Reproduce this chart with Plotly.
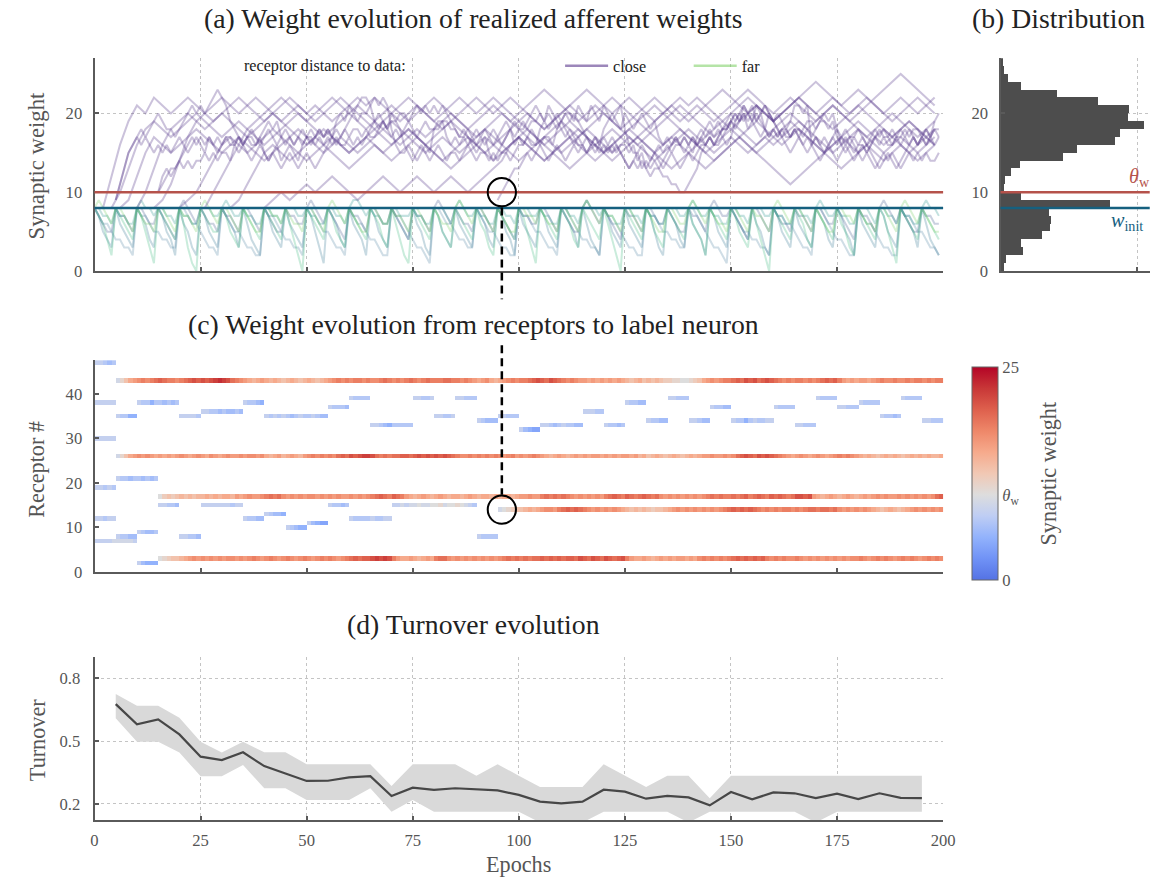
import numpy as np
import plotly.graph_objects as go

# ---------------- data ----------------
N_EPOCHS = 200
N_RECEPTORS = 48
THETA_W = 10
W_INIT = 8

# (c) receptors that stay above threshold: row, first epoch, per-epoch weights
strong_rows = [43, 26, 17, 3, 14]
strong_starts = [5, 5, 15, 15, 95]
w_r43 = [9, 11, 13, 15, 16, 17, 18, 17, 18, 19, 20, 19, 18, 18, 17, 18, 19, 20, 21, 20, 21, 20,
         21, 22, 23, 22, 21, 19, 18, 17, 16, 15, 14, 15, 16, 15, 14, 15, 14, 13, 14, 15, 14, 13,
         14, 15, 14, 13, 14, 15, 16, 17, 18, 17, 18, 17, 18, 18, 17, 18, 17, 17, 18, 19, 18, 17,
         18, 17, 18, 19, 18, 17, 18, 19, 18, 18, 18, 19, 19, 18, 18, 17, 18, 17, 16, 15, 16, 17,
         15, 14, 15, 16, 17, 18, 17, 18, 18, 19, 20, 21, 20, 19, 21, 20, 19, 18, 17, 18, 17, 16,
         16, 15, 16, 15, 16, 15, 16, 15, 16, 15, 14, 13, 14, 15, 13, 14, 13, 14, 13, 12, 12, 11,
         11, 10, 10, 11, 12, 13, 15, 16, 17, 16, 17, 18, 18, 19, 20, 19, 21, 20, 21, 19, 20, 21,
         20, 19, 18, 17, 18, 17, 18, 18, 17, 18, 17, 18, 19, 20, 19, 20, 18, 16, 15, 16, 15, 16,
         16, 15, 16, 17, 18, 17, 17, 18, 17, 17, 18, 17, 18, 18, 17, 18, 17, 18, 18]
w_r26 = [9, 11, 13, 15, 16, 17, 16, 17, 16, 15, 16, 15, 16, 15, 16, 17, 16, 15, 16, 17, 16, 15,
         17, 16, 15, 16, 17, 16, 16, 17, 16, 17, 17, 16, 17, 15, 14, 15, 16, 14, 15, 16, 15, 14,
         16, 17, 18, 17, 18, 17, 18, 17, 19, 20, 19, 21, 20, 21, 22, 22, 21, 19, 18, 19, 18, 19,
         19, 20, 20, 19, 20, 21, 20, 21, 20, 21, 20, 21, 20, 19, 18, 17, 17, 18, 17, 18, 17, 18,
         17, 18, 17, 16, 17, 18, 16, 17, 16, 17, 18, 17, 16, 15, 14, 15, 16, 15, 14, 15, 16, 15,
         16, 15, 16, 16, 15, 16, 15, 16, 15, 16, 16, 15, 16, 14, 15, 13, 14, 15, 14, 13, 14, 15,
         14, 13, 14, 15, 14, 15, 16, 16, 17, 16, 16, 17, 16, 17, 19, 20, 21, 20, 19, 21, 20, 21,
         20, 19, 18, 17, 16, 15, 16, 17, 16, 15, 16, 17, 16, 15, 16, 17, 18, 17, 18, 17, 16, 15,
         14, 15, 14, 13, 14, 15, 14, 15, 14, 13, 14, 15, 14, 15, 14, 15, 14, 14, 15]
w_r17 = [10, 12, 13, 12, 13, 14, 13, 14, 13, 14, 14, 15, 14, 15, 14, 15, 15, 14, 16, 15, 16, 17,
         16, 16, 17, 18, 19, 18, 19, 17, 16, 17, 16, 17, 16, 17, 17, 16, 17, 16, 17, 16, 17, 16,
         16, 17, 16, 17, 16, 17, 18, 19, 20, 19, 18, 20, 19, 18, 16, 15, 14, 15, 16, 15, 14, 15,
         16, 15, 14, 15, 15, 14, 15, 16, 15, 14, 15, 15, 14, 15, 14, 15, 15, 14, 15, 16, 16, 17,
         16, 16, 18, 19, 18, 19, 18, 19, 18, 17, 16, 17, 16, 17, 16, 17, 16, 18, 19, 20, 19, 18,
         20, 19, 18, 19, 20, 19, 18, 19, 17, 16, 17, 16, 17, 16, 17, 16, 17, 16, 17, 18, 19, 18,
         19, 18, 18, 19, 18, 19, 20, 18, 19, 20, 19, 18, 20, 19, 20, 19, 18, 19, 21, 21, 20, 21,
         16, 15, 14, 15, 16, 15, 14, 15, 16, 15, 14, 15, 16, 15, 16, 17, 16, 17, 16, 16, 17, 16,
         17, 16, 17, 16, 17, 16, 17, 19, 20]
w_r3 = [10, 11, 12, 13, 13, 14, 15, 16, 17, 16, 17, 16, 17, 16, 17, 16, 17, 17, 16, 17, 16, 17,
        18, 17, 16, 17, 18, 17, 16, 17, 18, 17, 16, 17, 18, 17, 16, 17, 18, 17, 18, 17, 16, 17,
        18, 19, 20, 19, 20, 20, 21, 22, 21, 22, 21, 18, 16, 15, 15, 16, 15, 14, 15, 16, 15, 18,
        19, 19, 17, 16, 17, 16, 17, 16, 17, 16, 17, 16, 17, 16, 17, 18, 19, 18, 19, 18, 19, 18,
        19, 19, 20, 19, 20, 19, 20, 19, 20, 20, 19, 21, 20, 19, 21, 20, 19, 21, 20, 19, 20, 21,
        18, 16, 15, 15, 16, 15, 14, 15, 16, 15, 16, 15, 16, 16, 15, 16, 15, 17, 18, 17, 18, 17,
        18, 17, 18, 19, 20, 19, 20, 19, 20, 19, 20, 18, 17, 18, 17, 18, 17, 17, 18, 17, 16, 17,
        16, 17, 16, 17, 16, 17, 16, 17, 16, 17, 17, 18, 17, 16, 17, 18, 17, 18, 17, 16, 17, 18,
        17, 18, 17, 16, 17, 18, 17, 18, 17]
w_r14 = [9, 10, 11, 12, 13, 13, 14, 15, 14, 15, 16, 17, 17, 16, 18, 19, 20, 19, 20, 19, 18, 17,
         16, 17, 16, 17, 16, 17, 16, 15, 14, 13, 14, 13, 14, 13, 12, 13, 13, 14, 15, 16, 17, 16,
         17, 16, 17, 16, 17, 16, 17, 16, 17, 18, 19, 20, 19, 20, 19, 20, 19, 18, 17, 18, 17, 18,
         17, 18, 18, 17, 18, 17, 18, 19, 19, 18, 19, 19, 18, 19, 17, 16, 17, 16, 17, 16, 17, 16,
         15, 14, 13, 14, 15, 14, 13, 14, 15, 16, 17, 16, 17, 16, 17, 16, 17]
strong_weights = [w_r43, w_r26, w_r17, w_r3, w_r14]

# (c) short-lived receptors below threshold: row, first epoch, per-epoch weights
weak_rows = [47, 38, 30, 19, 12, 7, 35, 21, 8, 38, 9, 2, 15, 35, 8, 36, 15, 38, 12, 35, 13, 10,
             11, 37, 15, 39, 12, 33, 15, 39, 35, 39, 34, 8, 35, 32, 33, 36, 33, 38, 34, 39, 34,
             37, 34, 37, 33, 39, 37, 38, 35, 39, 34]
weak_starts = [0, 0, 0, 0, 0, 0, 5, 5, 5, 10, 10, 10, 15, 20, 20, 25, 25, 35, 35, 40, 40, 45,
               50, 55, 55, 60, 60, 65, 70, 75, 80, 85, 90, 90, 95, 100, 105, 115, 120, 125, 130,
               135, 140, 145, 150, 160, 165, 170, 175, 180, 185, 190, 195]
weak_values = [
    [8, 8, 7, 6, 7], [8, 8, 8, 8, 8], [8, 8, 8, 8, 8], [8, 8, 7, 8, 7], [8, 8, 7, 8, 8],
    [8, 8, 8, 8, 9, 9, 9, 9, 9, 8], [8, 7, 7, 5, 5], [8, 7, 7, 6, 7, 7, 6, 7, 6, 7],
    [8, 7, 7, 6, 6], [8, 7, 7, 5, 7, 7, 6, 7, 6, 7], [8, 7, 6, 6, 7], [8, 6, 5, 5, 5],
    [8, 8, 7, 7, 6], [8, 8, 8, 8, 7], [8, 8, 7, 7, 6], [8, 8, 7, 7, 6, 7, 6, 6, 7, 6],
    [8, 8, 8, 8, 8, 8, 8, 7, 8, 8], [8, 7, 7, 6, 5], [8, 7, 7, 6, 6],
    [8, 7, 8, 7, 8, 7, 6, 7, 8, 7, 7, 8, 7, 6, 6], [8, 7, 6, 6, 5], [8, 7, 6, 5, 5],
    [8, 6, 5, 4, 4], [8, 7, 7, 7, 6], [8, 7, 7, 6, 7], [8, 7, 7, 7, 7],
    [8, 7, 7, 7, 7, 8, 7, 7, 8, 8], [8, 8, 7, 6, 5, 7, 7, 7, 7, 7],
    [8, 8, 9, 8, 9, 9, 10, 9, 9, 10, 10, 11, 9, 10, 10, 11, 10, 9, 8, 7],
    [8, 8, 7, 7, 8], [8, 8, 7, 7, 8], [8, 8, 7, 7, 7], [8, 7, 6, 6, 6], [8, 7, 7, 7, 7],
    [8, 8, 7, 7, 7], [8, 6, 5, 4, 4], [8, 8, 7, 6, 7, 8, 7, 7, 6, 6], [8, 8, 8, 7, 7],
    [8, 7, 7, 6, 7], [8, 7, 7, 6, 6], [8, 7, 7, 6, 6], [8, 8, 7, 7, 7], [8, 8, 7, 6, 6],
    [8, 7, 7, 6, 6], [8, 7, 7, 5, 7, 8, 7, 7, 8, 8], [8, 7, 7, 7, 7], [8, 8, 7, 7, 7],
    [8, 7, 7, 7, 7], [8, 8, 7, 7, 7], [8, 7, 7, 7, 7], [8, 7, 7, 6, 7], [8, 7, 7, 7, 7],
    [8, 8, 7, 7, 7]]

# (a) further close afferents, sampled every second epoch
extra_starts = [2, 4, 6, 10, 14, 20, 26, 32, 40]
close_e1 = [8, 12, 16, 19, 21, 20, 22, 21, 20, 21, 22, 21, 20, 19, 20, 21, 22, 21, 20, 19,
            20, 21, 22, 21, 20, 21, 20, 19, 20, 21, 22, 21, 22, 21, 20, 19, 20, 21, 20, 19,
            18, 19, 20, 21, 22, 21, 20, 21, 22, 21, 20, 19, 18, 19, 20, 21, 20, 19, 20, 21,
            22, 21, 20, 19, 20, 21, 20, 21, 20, 19, 20, 21, 22, 23, 22, 21, 20, 21, 20, 19,
            20, 21, 22, 21, 20, 21, 22, 21, 22, 23, 22, 21, 20, 19, 20, 21, 22, 21, 20]
close_e2 = [8, 10, 13, 16, 18, 19, 18, 17, 18, 19, 20, 19, 18, 17, 18, 19, 18, 17, 16, 17,
            18, 19, 20, 19, 18, 17, 18, 19, 20, 21, 20, 19, 18, 17, 16, 17, 18, 17, 18, 19,
            20, 19, 18, 17, 18, 19, 20, 19, 18, 17, 16, 17, 18, 19, 18, 17, 18, 19, 20, 19,
            18, 17, 16, 17, 18, 19, 20, 21, 20, 19, 18, 17, 18, 19, 18, 17, 16, 17, 18, 19,
            20, 19, 18, 19, 20, 21, 20, 19, 18, 17, 18, 19, 20, 19, 18, 17, 18, 19]
close_e3 = [8, 9, 12, 15, 17, 16, 15, 16, 17, 18, 17, 16, 15, 16, 17, 16, 15, 14, 15, 16,
            17, 18, 17, 16, 15, 16, 17, 16, 15, 16, 17, 18, 19, 18, 17, 16, 15, 16, 17, 16,
            15, 16, 17, 18, 17, 16, 15, 14, 15, 16, 17, 16, 15, 16, 17, 18, 17, 16, 15, 16,
            17, 16, 15, 14, 15, 16, 17, 18, 17, 16, 15, 16, 17, 16, 15, 16, 17, 16, 17, 18,
            19, 18, 17, 16, 15, 16, 17, 18, 17, 16, 15, 16, 17, 16, 15, 16, 17]
close_e4 = [8, 10, 13, 16, 18, 19, 20, 19, 18, 19, 20, 19, 18, 17, 18, 19, 20, 19, 18, 17,
            16, 17, 18, 17, 16, 15, 16, 17, 16, 15, 16, 17, 18, 17, 16, 17, 18, 19, 18, 17,
            16, 17, 16, 15, 16, 17, 16, 15, 14, 15, 16, 17, 18, 17, 16, 15, 16, 17, 18, 19,
            18, 17, 16, 17, 18, 17, 16, 15, 16, 17, 18, 19, 20, 21, 20, 19, 20, 21, 22, 21,
            20, 19, 18, 19, 20, 21, 20, 19, 18, 17, 18, 19, 18, 17, 16]
close_e5 = [8, 9, 11, 14, 17, 19, 20, 21, 22, 21, 20, 21, 22, 21, 20, 19, 20, 21, 20, 19,
            20, 21, 22, 21, 20, 19, 18, 19, 20, 21, 22, 21, 20, 19, 20, 21, 22, 21, 20, 21,
            22, 21, 20, 19, 20, 19, 18, 19, 20, 21, 22, 23, 22, 21, 20, 21, 22, 21, 20, 19,
            20, 21, 22, 21, 22, 21, 20, 19, 20, 21, 22, 21, 20, 19, 20, 21, 22, 23, 24, 23,
            22, 21, 20, 21, 22, 21, 20, 21, 22, 21, 20, 21, 22]
close_e6 = [8, 9, 10, 12, 14, 16, 17, 16, 15, 16, 17, 18, 17, 16, 15, 14, 15, 16, 17, 16,
            15, 16, 17, 18, 17, 16, 17, 18, 17, 16, 15, 14, 15, 16, 17, 16, 15, 16, 17, 18,
            19, 18, 17, 16, 15, 16, 17, 16, 15, 14, 15, 16, 17, 18, 17, 16, 15, 16, 17, 16,
            15, 14, 13, 14, 15, 16, 17, 16, 15, 16, 17, 18, 19, 18, 17, 16, 15, 16, 17, 16,
            15, 16, 17, 18, 17, 16, 15, 16, 17, 16]
close_e7 = [8, 10, 12, 14, 16, 18, 19, 20, 21, 22, 21, 20, 19, 20, 21, 22, 21, 20, 19, 18,
            19, 20, 21, 20, 19, 20, 21, 22, 21, 20, 19, 18, 19, 20, 21, 20, 19, 20, 21, 22,
            23, 22, 21, 20, 19, 20, 21, 20, 19, 18, 19, 20, 21, 22, 21, 20, 19, 20, 21, 20,
            19, 20, 21, 22, 23, 22, 21, 20, 21, 22, 21, 20, 19, 20, 21, 20, 19, 20, 21, 22,
            23, 24, 25, 24, 23, 22, 21]
close_e8 = [8, 9, 11, 13, 15, 16, 15, 14, 15, 16, 17, 16, 15, 14, 13, 14, 15, 16, 15, 14,
            15, 16, 17, 16, 15, 14, 13, 14, 15, 16, 15, 14, 15, 16, 17, 16, 15, 14, 15, 14,
            13, 14, 15, 16, 15, 14, 15, 16, 17, 16, 15, 14, 13, 14, 15, 16, 15, 14, 15, 16,
            17, 16, 15, 14, 13, 12, 11, 12, 13, 14, 15, 14, 13, 14, 15, 16, 15, 14, 15, 16,
            15, 14, 15, 16]
close_e9 = [8, 9, 10, 9, 10, 11, 10, 11, 12, 11, 10, 9, 10, 11, 12, 11, 10, 11, 12, 11,
            10, 11, 12, 11, 10, 11, 12, 13, 14, 16, 17, 18, 17, 16, 17, 18, 19, 18, 17, 16,
            17, 18, 17, 16, 17, 18, 19, 20, 19, 18, 17, 16, 17, 18, 19, 18, 17, 18, 19, 18,
            17, 16, 17, 18, 17, 16, 15, 16, 17, 18, 19, 18, 17, 16, 17, 18, 19, 18, 17, 18]
extra_close = [close_e1, close_e2, close_e3, close_e4, close_e5, close_e6, close_e7, close_e8, close_e9]

# (a) far afferents, one value per epoch (re-initialised at w_init after each turnover)
far_1 = [8, 7, 6, 5, 5, 8, 7, 7, 6, 5, 8, 8, 7, 6, 6, 8, 7, 6, 5, 4, 8, 9, 8, 7, 6, 8, 7, 6, 6, 5,
         8, 7, 7, 6, 5, 8, 8, 7, 6, 5, 8, 7, 6, 5, 5, 8, 7, 7, 6, 6, 8, 9, 8, 7, 6, 8, 7, 6, 5, 4,
         8, 7, 7, 6, 5, 8, 8, 7, 6, 6, 8, 7, 6, 5, 4, 8, 7, 7, 6, 5, 8, 9, 8, 7, 6, 8, 7, 6, 6, 5,
         8, 8, 7, 6, 5, 8, 7, 6, 5, 4, 8, 7, 7, 6, 6, 8, 8, 7, 6, 5, 8, 7, 6, 5, 5, 8, 9, 8, 7, 6,
         8, 7, 6, 5, 4, 8, 7, 7, 6, 5, 8, 8, 7, 6, 6, 8, 7, 6, 5, 5, 8, 7, 7, 6, 5, 8, 9, 8, 7, 7,
         8, 7, 6, 5, 4, 8, 8, 7, 6, 5, 8, 7, 6, 6, 5, 8, 7, 7, 6, 5, 8, 8, 7, 6, 6, 8, 7, 6, 5, 4,
         8, 7, 7, 6, 5, 8, 9, 8, 7, 6, 8, 7, 6, 5, 5, 8, 7, 7, 6, 6]
far_2 = [8, 7, 5, 4, 3, 8, 6, 5, 4, 3, 8, 7, 6, 4, 3, 8, 7, 5, 4, 2, 8, 6, 5, 3, 2, 8, 7, 5, 4, 3,
         8, 7, 6, 5, 3, 8, 6, 4, 3, 2, 8, 7, 5, 4, 3, 8, 6, 5, 4, 3, 8, 7, 5, 3, 1, 8, 7, 6, 4, 3,
         8, 6, 5, 4, 2, 8, 7, 5, 4, 3, 8, 7, 6, 5, 4, 8, 6, 5, 3, 2, 8, 7, 5, 4, 3, 8, 6, 5, 4, 3,
         8, 7, 6, 4, 3, 8, 7, 5, 4, 2, 8, 6, 5, 4, 3, 8, 7, 5, 4, 3, 8, 7, 6, 5, 3, 8, 6, 4, 3, 2,
         8, 7, 5, 4, 3, 8, 6, 5, 4, 3, 8, 7, 5, 3, 2, 8, 7, 6, 4, 3, 8, 6, 5, 4, 2, 8, 7, 5, 4, 3,
         8, 7, 6, 5, 4, 8, 6, 5, 3, 2, 8, 7, 5, 4, 3, 8, 6, 5, 4, 3, 8, 7, 6, 4, 3, 8, 7, 5, 4, 2,
         8, 6, 5, 4, 3, 8, 7, 5, 4, 3, 8, 7, 6, 5, 3, 8, 6, 4, 3, 2]
far_3 = [8, 8, 7, 7, 6, 8, 7, 7, 6, 6, 8, 9, 8, 8, 7, 8, 8, 7, 7, 6, 8, 7, 7, 6, 6, 8, 8, 8, 7, 7,
         8, 9, 8, 7, 7, 8, 7, 7, 6, 6, 8, 8, 7, 7, 6, 8, 8, 8, 7, 7, 8, 7, 7, 6, 6, 8, 8, 7, 7, 6,
         8, 9, 9, 8, 7, 8, 7, 7, 6, 6, 8, 8, 7, 7, 7, 8, 7, 7, 6, 6, 8, 8, 8, 7, 6, 8, 9, 8, 7, 7,
         8, 7, 7, 6, 6, 8, 8, 7, 7, 6, 8, 8, 8, 7, 7, 8, 7, 7, 6, 6, 8, 8, 7, 7, 6, 8, 9, 8, 8, 7,
         8, 7, 7, 6, 6, 8, 8, 7, 7, 6, 8, 7, 7, 6, 6, 8, 8, 8, 7, 7, 8, 9, 8, 7, 7, 8, 7, 7, 6, 6,
         8, 8, 7, 7, 6, 8, 8, 8, 7, 7, 8, 7, 7, 6, 6, 8, 8, 7, 7, 6, 8, 9, 8, 7, 7, 8, 7, 7, 6, 6,
         8, 8, 8, 7, 6, 8, 8, 7, 7, 6, 8, 7, 7, 6, 6, 8, 9, 8, 8, 7]
far_4 = [8, 7, 6, 6, 5, 4, 4, 3, 3, 2, 8, 7, 7, 6, 5, 5, 4, 4, 3, 3, 8, 8, 7, 6, 6, 5, 4, 3, 3, 2,
         8, 7, 6, 5, 5, 4, 3, 3, 2, 2, 8, 7, 7, 6, 5, 4, 4, 3, 3, 2, 8, 8, 7, 6, 5, 5, 4, 3, 3, 2,
         8, 7, 6, 6, 5, 4, 4, 3, 2, 2, 8, 7, 7, 6, 5, 4, 3, 3, 2, 1, 8, 8, 7, 6, 6, 5, 4, 4, 3, 3,
         8, 7, 6, 5, 5, 4, 3, 3, 2, 2, 8, 7, 7, 6, 5, 5, 4, 3, 3, 2, 8, 8, 7, 6, 5, 4, 4, 3, 3, 2,
         8, 7, 6, 6, 5, 4, 3, 3, 2, 2, 8, 7, 7, 6, 5, 5, 4, 4, 3, 3, 8, 8, 7, 6, 5, 4, 3, 3, 2, 1,
         8, 7, 6, 5, 5, 4, 4, 3, 3, 2, 8, 7, 7, 6, 6, 5, 4, 3, 3, 2, 8, 8, 7, 6, 5, 4, 4, 3, 2, 2,
         8, 7, 6, 6, 5, 4, 3, 3, 2, 2, 8, 7, 7, 6, 5, 5, 4, 3, 3, 2]
far_5 = [8, 7, 6, 4, 2, 8, 7, 6, 5, 4, 8, 7, 5, 3, 1, 8, 7, 6, 5, 4, 8, 6, 3, 1, 0, 8, 7, 6, 5, 5,
         8, 7, 5, 4, 3, 8, 7, 6, 5, 4, 8, 7, 6, 5, 4, 8, 6, 4, 2, 0, 8, 7, 6, 5, 4, 8, 7, 5, 4, 3,
         8, 7, 6, 5, 4, 8, 7, 6, 4, 3, 8, 6, 4, 2, 1, 8, 7, 6, 5, 4, 8, 7, 5, 4, 3, 8, 7, 6, 5, 4,
         8, 6, 5, 3, 2, 8, 7, 6, 5, 4, 8, 7, 5, 3, 1, 8, 7, 6, 5, 4, 8, 7, 6, 4, 3, 8, 7, 6, 5, 4,
         8, 6, 4, 2, 0, 8, 7, 6, 5, 4, 8, 7, 5, 4, 3, 8, 7, 6, 5, 4, 8, 6, 5, 4, 2, 8, 7, 6, 5, 4,
         8, 7, 5, 4, 3, 8, 6, 4, 2, 0, 8, 7, 6, 5, 4, 8, 7, 6, 4, 3, 8, 7, 6, 5, 4, 8, 6, 5, 3, 2,
         8, 7, 6, 5, 4, 8, 7, 5, 3, 1, 8, 7, 6, 5, 4, 8, 7, 6, 5, 4]
far_6 = [8, 9, 8, 7, 6, 8, 8, 7, 6, 5, 8, 7, 6, 6, 5, 8, 8, 7, 6, 5, 8, 7, 7, 6, 5, 8, 9, 8, 7, 6,
         8, 8, 7, 6, 5, 8, 7, 6, 5, 5, 8, 8, 7, 7, 6, 8, 7, 6, 6, 5, 8, 8, 7, 6, 5, 8, 9, 8, 7, 6,
         8, 7, 6, 5, 5, 8, 8, 7, 6, 6, 8, 7, 7, 6, 5, 8, 8, 7, 6, 5, 8, 7, 6, 6, 5, 8, 9, 8, 7, 6,
         8, 8, 7, 6, 5, 8, 7, 6, 5, 5, 8, 8, 7, 7, 6, 8, 7, 6, 6, 5, 8, 8, 7, 6, 5, 8, 9, 8, 7, 6,
         8, 7, 7, 6, 5, 8, 8, 7, 6, 5, 8, 7, 6, 5, 5, 8, 8, 7, 6, 6, 8, 9, 8, 7, 6, 8, 7, 6, 6, 5,
         8, 8, 7, 6, 5, 8, 7, 7, 6, 5, 8, 9, 8, 7, 6, 8, 8, 7, 6, 5, 8, 7, 6, 5, 5, 8, 8, 7, 7, 6,
         8, 7, 6, 6, 5, 8, 8, 7, 6, 5, 8, 9, 8, 7, 6, 8, 7, 6, 5, 5]
far_traces = [far_1, far_2, far_3, far_4, far_5, far_6]
far_colors = ["#3b528b", "#2c728e", "#21918c", "#4a7fa0", "#35b779", "#6ccd5a"]

# (b) weight distribution, unit-wide bins starting at 0
hist_bin_lo = list(range(27))
hist_counts = [24, 36, 163, 146, 299, 360, 365, 352, 797, 146, 19, 32, 73, 139, 454, 554,
               838, 875, 1045, 928, 936, 710, 408, 146, 49, 24, 12]

# (d) turnover per turnover step
turn_epochs = list(range(5, 200, 5))
turn_mean = [0.677, 0.580, 0.604, 0.532, 0.425, 0.409, 0.446, 0.380, 0.345, 0.309, 0.310,
             0.326, 0.332, 0.237, 0.277, 0.266, 0.274, 0.270, 0.264, 0.242, 0.210, 0.202,
             0.210, 0.267, 0.258, 0.224, 0.237, 0.230, 0.192, 0.256, 0.221, 0.254, 0.250,
             0.227, 0.248, 0.222, 0.250, 0.228, 0.227]
turn_upper = [0.725, 0.669, 0.669, 0.612, 0.497, 0.445, 0.497, 0.446, 0.446, 0.389, 0.389,
              0.389, 0.389, 0.285, 0.389, 0.389, 0.389, 0.334, 0.389, 0.334, 0.280, 0.280,
              0.280, 0.389, 0.334, 0.280, 0.334, 0.334, 0.226, 0.334, 0.334, 0.334, 0.334,
              0.334, 0.334, 0.334, 0.334, 0.334, 0.334]
turn_lower = [0.609, 0.497, 0.497, 0.445, 0.332, 0.332, 0.385, 0.274, 0.274, 0.218, 0.218,
              0.218, 0.274, 0.162, 0.218, 0.162, 0.162, 0.162, 0.162, 0.162, 0.110, 0.110,
              0.110, 0.162, 0.162, 0.162, 0.162, 0.110, 0.162, 0.162, 0.162, 0.162, 0.162,
              0.110, 0.162, 0.162, 0.162, 0.162, 0.162]

epoch_ticks = [0, 25, 50, 75, 100, 125, 150, 175, 200]

# ---------------- layout helpers ----------------
# positions are laid out on a 1157 x 878 grid and expressed as paper fractions
GRID_W, GRID_H = 1157, 878
FIG_W, FIG_H = 1167, 886
K = FIG_W / GRID_W  # pixel-size scale (fonts, widths)

FONT = "Liberation Serif"
TICK_GREY = "#555555"
AXIS_GREY = "#5a5a5a"
THETA_COLOR = "#b5524b"
WINIT_COLOR = "#15607f"
CLOSE_COLOR = "rgb(85,55,140)"


def px_x(p):
    return p / GRID_W


def px_y(p):
    return 1 - p / GRID_H


def k(v):
    return v * K


X_MAIN = [px_x(91), px_x(944)]
X_HIST = [px_x(1001.7), px_x(1151.7)]
Y_TOP = [px_y(271.7), px_y(58.3)]
Y_HEAT = [px_y(573.3), px_y(360.7)]
Y_TURN = [px_y(822.3), px_y(659)]
TITLE_X = px_x(472)


def axis_style(**kw):
    base = dict(showline=True, linecolor=AXIS_GREY, linewidth=k(2), ticks="inside",
                ticklen=k(4), tickwidth=k(1.5), tickcolor=AXIS_GREY, zeroline=False,
                mirror=False, gridcolor="#c4c4c4", griddash="dot", gridwidth=1,
                tickfont=dict(family=FONT, size=k(16.5), color=TICK_GREY))
    base.update(kw)
    return base


fig = go.Figure()

# ---- (a) weight traces ----
for vals, col in zip(far_traces, far_colors):
    fig.add_trace(go.Scatter(x=list(range(len(vals))), y=vals, mode="lines",
                             line=dict(color=col, width=k(2)), opacity=0.26,
                             showlegend=False, hoverinfo="skip", xaxis="x", yaxis="y"))

for start, vals in zip(strong_starts, strong_weights):
    xs = list(range(start, start + len(vals)))[: N_EPOCHS - start]
    fig.add_trace(go.Scatter(x=xs, y=vals[: len(xs)], mode="lines",
                             line=dict(color=CLOSE_COLOR, width=k(2)), opacity=0.3,
                             showlegend=False, hoverinfo="skip", xaxis="x", yaxis="y"))

for start, vals in zip(extra_starts, extra_close):
    xs = [start + 2 * i for i in range(len(vals))]
    fig.add_trace(go.Scatter(x=xs, y=vals, mode="lines",
                             line=dict(color=CLOSE_COLOR, width=k(2)), opacity=0.3,
                             showlegend=False, hoverinfo="skip", xaxis="x", yaxis="y"))

# legend keys
fig.add_trace(go.Scatter(x=[None], y=[None], mode="lines", name="close",
                         line=dict(color="rgba(90,55,140,0.6)", width=k(2.5)),
                         xaxis="x", yaxis="y"))
fig.add_trace(go.Scatter(x=[None], y=[None], mode="lines", name="far",
                         line=dict(color="rgba(120,205,95,0.55)", width=k(2.5)),
                         xaxis="x", yaxis="y"))

# ---- (b) histogram ----
fig.add_trace(go.Bar(y=[b + 0.5 for b in hist_bin_lo], x=hist_counts, orientation="h",
                     width=1, marker=dict(color="#4d4d4d", line=dict(width=0)),
                     showlegend=False, hoverinfo="skip", xaxis="x2", yaxis="y2"))

# ---- (c) heatmap ----
z = np.full((N_RECEPTORS, N_EPOCHS), np.nan)
for row, start, vals in zip(strong_rows, strong_starts, strong_weights):
    n = min(len(vals), N_EPOCHS - start)
    z[row, start:start + n] = vals[:n]
for row, start, vals in zip(weak_rows, weak_starts, weak_values):
    n = min(len(vals), N_EPOCHS - start)
    z[row, start:start + n] = vals[:n]

wscale = [
    [0.00, "rgb(84,114,228)"], [0.10, "rgb(112,146,246)"], [0.20, "rgb(146,178,252)"],
    [0.30, "rgb(190,205,244)"], [0.40, "rgb(221,221,221)"], [0.50, "rgb(241,200,180)"],
    [0.60, "rgb(246,170,140)"], [0.70, "rgb(238,135,105)"], [0.80, "rgb(222,96,77)"],
    [0.90, "rgb(200,55,55)"], [1.00, "rgb(180,4,38)"]]

fig.add_trace(go.Heatmap(
    z=z, x=[e + 0.5 for e in range(N_EPOCHS)], y=list(range(N_RECEPTORS)),
    zmin=0, zmax=25, colorscale=wscale, hoverongaps=False, xaxis="x3", yaxis="y3",
    colorbar=dict(x=px_x(972.7), xanchor="left", xpad=0, ypad=0,
                  y=px_y(475), yanchor="middle", len=213 / GRID_H, lenmode="fraction",
                  thickness=k(26), thicknessmode="pixels",
                  outlinewidth=1, outlinecolor="#666666",
                  tickvals=[0, THETA_W, 25], ticktext=["0", "<i>θ</i><sub>w</sub>", "25"],
                  ticks="", tickfont=dict(family=FONT, size=k(16.5), color=TICK_GREY))))

# ---- (d) turnover ----
fig.add_trace(go.Scatter(x=turn_epochs, y=turn_upper, mode="lines", line=dict(width=0),
                         showlegend=False, hoverinfo="skip", xaxis="x4", yaxis="y4"))
fig.add_trace(go.Scatter(x=turn_epochs, y=turn_lower, mode="lines", line=dict(width=0),
                         fill="tonexty", fillcolor="#d9d9d9",
                         showlegend=False, hoverinfo="skip", xaxis="x4", yaxis="y4"))
fig.add_trace(go.Scatter(x=turn_epochs, y=turn_mean, mode="lines",
                         line=dict(color="#474747", width=k(2.2)),
                         showlegend=False, xaxis="x4", yaxis="y4"))

# ---------------- axes ----------------
fig.update_layout(
    xaxis=axis_style(domain=X_MAIN, anchor="y", range=[0, 200], tickvals=epoch_ticks,
                     showticklabels=False, showgrid=True),
    yaxis=axis_style(domain=Y_TOP, anchor="x", range=[0, 27], tickvals=[0, 10, 20],
                     showgrid=True, ticklabelstandoff=7),
    xaxis2=axis_style(domain=X_HIST, anchor="y2", range=[0, 1093], tickvals=[1000],
                      showticklabels=False, showgrid=True),
    yaxis2=axis_style(domain=Y_TOP, anchor="x2", range=[0, 27], tickvals=[0, 10, 20],
                      showgrid=True, ticklabelstandoff=7),
    xaxis3=axis_style(domain=X_MAIN, anchor="y3", range=[0, 200], tickvals=epoch_ticks,
                      showticklabels=False, showgrid=False),
    yaxis3=axis_style(domain=Y_HEAT, anchor="x3", range=[0, 47.6],
                      tickvals=[0, 10, 20, 30, 40], showgrid=False, ticklabelstandoff=7),
    xaxis4=axis_style(domain=X_MAIN, anchor="y4", range=[0, 200], tickvals=epoch_ticks,
                      showgrid=True, ticklabelstandoff=4),
    yaxis4=axis_style(domain=Y_TURN, anchor="x4", range=[0.12, 0.9],
                      tickvals=[0.2, 0.5, 0.8], ticktext=["0.2", "0.5", "0.8"], showgrid=True,
                      ticklabelstandoff=9),
)

# ---------------- reference lines, markers ----------------
shapes = []
for xr, yr in [("x domain", "y"), ("x2 domain", "y2")]:
    shapes.append(dict(type="line", xref=xr, yref=yr, x0=0, x1=1, y0=THETA_W, y1=THETA_W,
                       line=dict(color=THETA_COLOR, width=k(2.5)), layer="above"))
    shapes.append(dict(type="line", xref=xr, yref=yr, x0=0, x1=1, y0=W_INIT, y1=W_INIT,
                       line=dict(color=WINIT_COLOR, width=k(2.5)), layer="above"))

CROSS_EPOCH = 96
R = k(14)
shapes.append(dict(type="circle", xref="x", yref="y", xsizemode="pixel", ysizemode="pixel",
                   xanchor=CROSS_EPOCH, yanchor=THETA_W, x0=-R, x1=R, y0=-R, y1=R,
                   line=dict(color="black", width=k(2)), layer="above"))
shapes.append(dict(type="circle", xref="x3", yref="y3", xsizemode="pixel", ysizemode="pixel",
                   xanchor=CROSS_EPOCH, yanchor=14, x0=-R, x1=R, y0=-R, y1=R,
                   line=dict(color="black", width=k(2)), layer="above"))
shapes.append(dict(type="line", xref="x", yref="paper", x0=CROSS_EPOCH, x1=CROSS_EPOCH,
                   y0=px_y(208), y1=px_y(300),
                   line=dict(color="black", width=k(2.5), dash="8px,5px"), layer="above"))
shapes.append(dict(type="line", xref="x3", yref="paper", x0=CROSS_EPOCH, x1=CROSS_EPOCH,
                   y0=px_y(346), y1=px_y(496),
                   line=dict(color="black", width=k(2.5), dash="8px,5px"), layer="above"))


def text(t, x, y, size, color="#222222", angle=0, xanchor="center", yanchor="middle"):
    return dict(text=t, x=x, y=y, xref="paper", yref="paper", showarrow=False,
                font=dict(family=FONT, size=k(size), color=color), textangle=angle,
                xanchor=xanchor, yanchor=yanchor)


annotations = [
    text("(a) Weight evolution of realized afferent weights", TITLE_X, px_y(19), 27.5),
    text("(b) Distribution", px_x(1060), px_y(19), 27.5),
    text("(c) Weight evolution from receptors to label neuron", TITLE_X, px_y(325), 27.5),
    text("(d) Turnover evolution", TITLE_X, px_y(626), 27.5),
    text("Synaptic weight", px_x(33), px_y(166), 22.5, TICK_GREY, -90),
    text("Receptor #", px_x(33), px_y(470), 22, TICK_GREY, -90),
    text("Turnover", px_x(33), px_y(742), 22, TICK_GREY, -90),
    text("Epochs", px_x(517.5), px_y(866), 22, TICK_GREY),
    text("Synaptic weight", px_x(1050), px_y(475), 22, TICK_GREY, -90),
    text("receptor distance to data:", px_x(323), px_y(66), 16),
    text("<i>θ</i><sub>w</sub>", px_x(1141), px_y(178), 20, THETA_COLOR),
    text("<i>w</i><sub>init</sub>", px_x(1129), px_y(222), 20, WINIT_COLOR),
]

fig.update_layout(
    width=FIG_W, height=FIG_H, margin=dict(l=0, r=0, t=0, b=0),
    paper_bgcolor="white", plot_bgcolor="white",
    font=dict(family=FONT, size=k(16), color="#222222"),
    shapes=shapes, annotations=annotations,
    bargap=0, showlegend=True,
    legend=dict(orientation="h", x=px_x(559), y=px_y(66), xanchor="left", yanchor="middle",
                traceorder="normal", font=dict(family=FONT, size=k(16), color="#222222"),
                bgcolor="rgba(0,0,0,0)", entrywidth=k(70), entrywidthmode="pixels",
                itemwidth=round(k(43)), itemclick=False, itemdoubleclick=False),
)

fig.write_html(
    "out.html",
    post_script="document.documentElement.style.overflow='hidden';"
                "document.body.style.margin='0';document.body.style.overflow='hidden';",
)
